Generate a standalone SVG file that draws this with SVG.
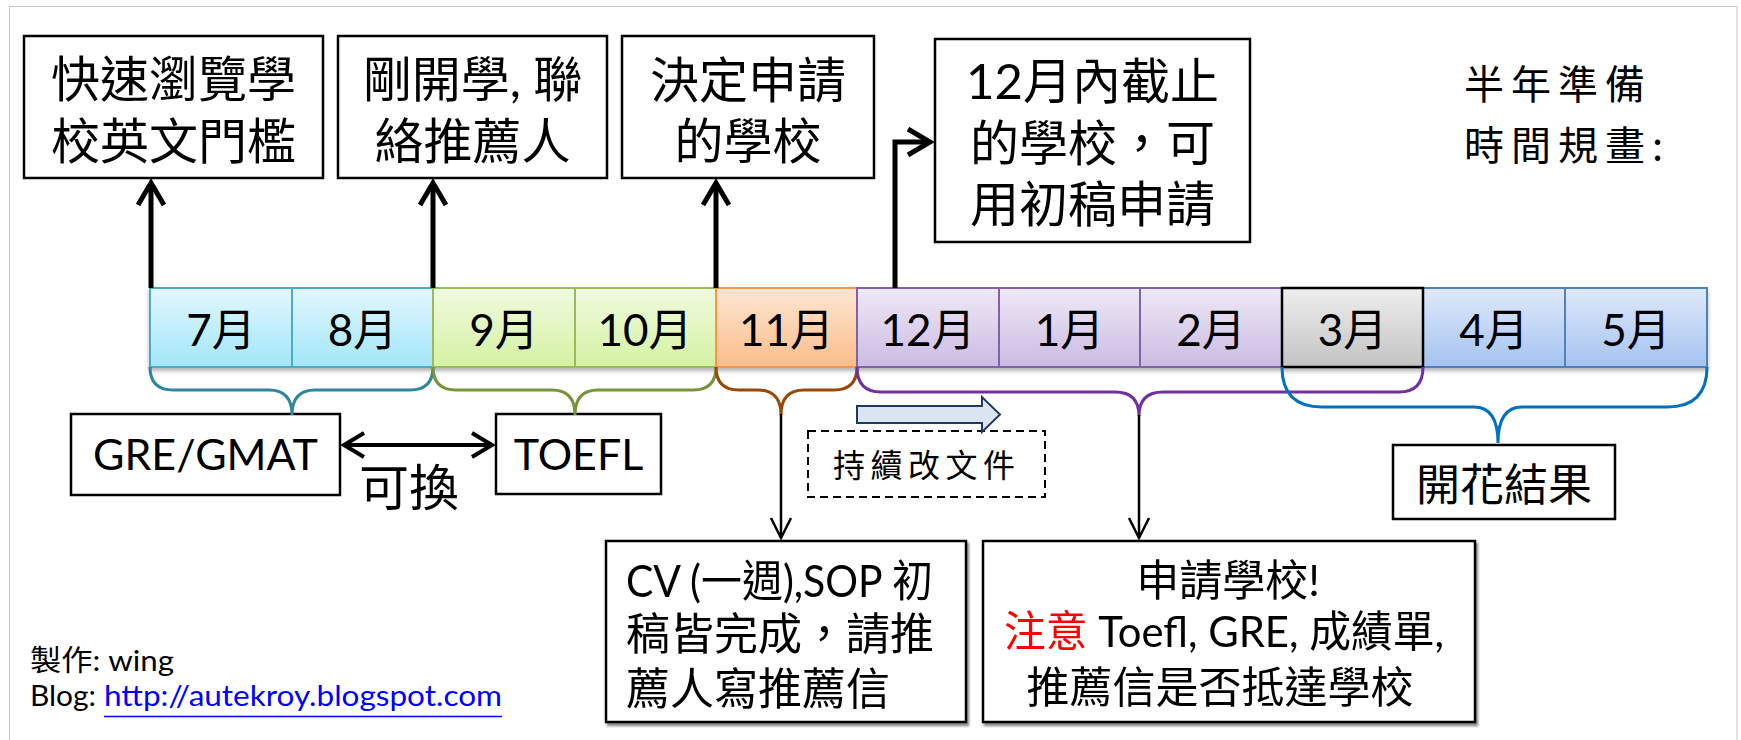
<svg xmlns="http://www.w3.org/2000/svg" width="1741" height="740" viewBox="0 0 1741 740">
<style>
.cjk{font-family:"Noto Sans CJK TC","Noto Sans CJK SC",sans-serif;fill:#000}
.lat{font-family:Lato,"Noto Sans CJK TC",sans-serif;fill:#000}
.box{fill:#fff;stroke:#000;stroke-width:2.5}
.thick{fill:none;stroke:#000;stroke-width:5}
.thin{fill:none;stroke:#000;stroke-width:2.5}
.brace{fill:none;stroke-width:3}
.cell-div{stroke-width:2}
</style>
<defs>
<marker id="ahThick" markerUnits="userSpaceOnUse" viewBox="0 0 34 30" markerWidth="34" markerHeight="30" refX="26" refY="15" orient="auto">
<path d="M4,2 L26,15 L4,28" fill="none" stroke="#000" stroke-width="5"/>
</marker>
<marker id="ahMid" markerUnits="userSpaceOnUse" viewBox="0 0 30 30" markerWidth="30" markerHeight="30" refX="24" refY="15" orient="auto-start-reverse">
<path d="M4,3 L24,15 L4,27" fill="none" stroke="#000" stroke-width="4"/>
</marker>
<marker id="ahThin" markerUnits="userSpaceOnUse" viewBox="0 0 30 26" markerWidth="30" markerHeight="26" refX="24" refY="13" orient="auto">
<path d="M4,3 L24,13 L4,23" fill="none" stroke="#000" stroke-width="2.5"/>
</marker>
<linearGradient id="gAqua" x1="0" y1="0" x2="0" y2="1"><stop offset="0" stop-color="#e2f7fd"/><stop offset="1" stop-color="#a3e6f9"/></linearGradient>
<linearGradient id="gGreen" x1="0" y1="0" x2="0" y2="1"><stop offset="0" stop-color="#f0fadf"/><stop offset="1" stop-color="#d5f2a3"/></linearGradient>
<linearGradient id="gOrange" x1="0" y1="0" x2="0" y2="1"><stop offset="0" stop-color="#fde6d3"/><stop offset="1" stop-color="#fbbd8b"/></linearGradient>
<linearGradient id="gPurple" x1="0" y1="0" x2="0" y2="1"><stop offset="0" stop-color="#efe9f6"/><stop offset="1" stop-color="#cbbbe2"/></linearGradient>
<linearGradient id="gGray" x1="0" y1="0" x2="0" y2="1"><stop offset="0" stop-color="#eeeeee"/><stop offset="1" stop-color="#c3c3c3"/></linearGradient>
<linearGradient id="gBlue" x1="0" y1="0" x2="0" y2="1"><stop offset="0" stop-color="#dfe9fa"/><stop offset="1" stop-color="#a5c3f0"/></linearGradient>
<filter id="shCell" x="-5%" y="-10%" width="110%" height="130%"><feDropShadow dx="0" dy="3" stdDeviation="2" flood-color="#000" flood-opacity="0.3"/></filter>
<filter id="shBox" x="-5%" y="-5%" width="110%" height="110%"><feDropShadow dx="2" dy="3" stdDeviation="1" flood-color="#000" flood-opacity="0.45"/></filter>
</defs>

<rect x="9.5" y="6.5" width="1727.5" height="745" fill="#fff" stroke="#c8c8c8" stroke-width="1"/>

<!-- top boxes -->
<g id="box-browse">
<rect class="box" x="24" y="36" width="299" height="142"/>
<text class="cjk" font-size="49" x="173.5" y="97" text-anchor="middle">快速瀏覽學</text>
<text class="cjk" font-size="49" x="173.5" y="159" text-anchor="middle">校英文門檻</text>
</g>
<g id="box-contact">
<rect class="box" x="338" y="36" width="269" height="142"/>
<text class="lat" font-size="49" x="472.5" y="97" text-anchor="middle">剛開學, 聯</text>
<text class="cjk" font-size="49" x="472.5" y="159" text-anchor="middle">絡推薦人</text>
</g>
<g id="box-decide">
<rect class="box" x="622" y="36" width="252" height="142"/>
<text class="cjk" font-size="49" x="748" y="98" text-anchor="middle">決定申請</text>
<text class="cjk" font-size="49" x="748" y="159" text-anchor="middle">的學校</text>
</g>
<g id="box-dec">
<rect class="box" x="935" y="39" width="315" height="203"/>
<text class="lat" font-size="49" x="1092.5" y="99" text-anchor="middle">12月內截止</text>
<text class="cjk" font-size="49" x="1092.5" y="161" text-anchor="middle">的學校，可</text>
<text class="cjk" font-size="49" x="1092.5" y="222" text-anchor="middle">用初稿申請</text>
</g>
<g id="title">
<text class="cjk" font-size="40" letter-spacing="7" x="1464" y="99">半年準備</text>
<text class="cjk" font-size="40" letter-spacing="7" x="1464" y="160">時間規畫:</text>
</g>

<!-- timeline -->
<g id="timeline" filter="url(#shCell)">
<g id="m-summer">
<rect x="150" y="288" width="283" height="79" fill="url(#gAqua)" stroke="#4bacc6" stroke-width="2"/>
<line class="cell-div" x1="292" y1="288" x2="292" y2="367" stroke="#4bacc6"/>
</g>
<g id="m-autumn">
<rect x="433" y="288" width="283" height="79" fill="url(#gGreen)" stroke="#9bbb59" stroke-width="2"/>
<line class="cell-div" x1="575" y1="288" x2="575" y2="367" stroke="#9bbb59"/>
</g>
<g id="m-nov">
<rect x="716" y="288" width="141" height="79" fill="url(#gOrange)" stroke="#f79646" stroke-width="2"/>
</g>
<g id="m-apply">
<rect x="857" y="288" width="425" height="79" fill="url(#gPurple)" stroke="#8064a2" stroke-width="2"/>
<line class="cell-div" x1="999" y1="288" x2="999" y2="367" stroke="#8064a2"/>
<line class="cell-div" x1="1140" y1="288" x2="1140" y2="367" stroke="#8064a2"/>
</g>
<g id="m-spring">
<rect x="1423" y="288" width="284" height="79" fill="url(#gBlue)" stroke="#4f81bd" stroke-width="2"/>
<line class="cell-div" x1="1565" y1="288" x2="1565" y2="367" stroke="#4f81bd"/>
</g>
<g id="m-mar">
<rect x="1282" y="288" width="141" height="79" fill="url(#gGray)" stroke="#000" stroke-width="2.5"/>
</g>
</g>
<g id="month-labels" class="lat" font-size="44" text-anchor="middle">
<text x="221" y="346">7月</text>
<text x="362.5" y="346">8月</text>
<text x="504" y="346">9月</text>
<text x="645" y="346">10月</text>
<text x="786.5" y="346">11月</text>
<text x="928" y="346">12月</text>
<text x="1069.5" y="346">1月</text>
<text x="1211" y="346">2月</text>
<text x="1352.5" y="346">3月</text>
<text x="1494" y="346">4月</text>
<text x="1636" y="346">5月</text>
</g>

<!-- lower nodes -->
<g id="box-gre">
<rect class="box" x="71" y="414" width="269" height="81"/>
<text class="lat" font-size="43" x="205.5" y="470" text-anchor="middle">GRE/GMAT</text>
</g>
<g id="box-toefl">
<rect class="box" x="496" y="414" width="165" height="80"/>
<text class="lat" font-size="43" x="578.5" y="470" text-anchor="middle">TOEFL</text>
</g>
<g id="label-swap">
<text class="cjk" font-size="50" x="409" y="506" text-anchor="middle">可換</text>
</g>
<g id="box-revise">
<rect x="808" y="431" width="237" height="66" fill="#fff" stroke="#000" stroke-width="2" stroke-dasharray="8,5"/>
<text class="cjk" font-size="32" letter-spacing="5.5" x="833" y="477">持續改文件</text>
</g>
<g id="block-arrow">
<path d="M857,406 H982 V397 L1000,414.5 L982,432 V423 H857 Z" fill="#dbe5f1" stroke="#1f3a60" stroke-width="2"/>
</g>
<g id="box-bloom">
<rect class="box" x="1393" y="445" width="222" height="74"/>
<text class="cjk" font-size="44" x="1504" y="501" text-anchor="middle">開花結果</text>
</g>
<g id="box-cv" filter="url(#shBox)">
<rect class="box" x="606" y="541" width="360" height="181"/>
<text class="lat" font-size="44" x="626" y="597" textLength="307" lengthAdjust="spacingAndGlyphs">CV (一週),SOP 初</text>
<text class="cjk" font-size="44" x="626" y="650">稿皆完成，請推</text>
<text class="cjk" font-size="44" x="626" y="705">薦人寫推薦信</text>
</g>
<g id="box-apply" filter="url(#shBox)">
<rect class="box" x="983" y="541" width="492" height="181"/>
<text class="lat" font-size="43" x="1228" y="596" text-anchor="middle">申請學校!</text>
<text class="lat" font-size="43" x="1004" y="647" textLength="440" lengthAdjust="spacingAndGlyphs"><tspan fill="#ff0000">注意</tspan> Toefl, GRE, 成績單,</text>
<text class="cjk" font-size="43" x="1220" y="703" text-anchor="middle">推薦信是否抵達學校</text>
</g>
<g id="credits">
<text class="lat" font-size="29" x="30" y="671" textLength="144" lengthAdjust="spacingAndGlyphs">製作: wing</text>
<text class="lat" font-size="29" x="30" y="706" textLength="66" lengthAdjust="spacingAndGlyphs">Blog:</text>
<text class="lat" font-size="29" x="104" y="706" textLength="398" lengthAdjust="spacingAndGlyphs" style="fill:#0000ff">http://autekroy.blogspot.com</text>
<line x1="104" y1="716.5" x2="502" y2="716.5" stroke="#0000ff" stroke-width="1.5"/>
</g>

<!-- connectors -->
<g id="connectors">
<g id="braces">
<path class="brace" stroke="#31859c" d="M150,367 Q150,390 173,390 L269,390 Q292,390 292,415 Q292,390 315,390 L410,390 Q433,390 433,367"/>
<path class="brace" stroke="#77933c" d="M433,367 Q433,390 456,390 L552,390 Q575,390 575,415 Q575,390 598,390 L693,390 Q716,390 716,367"/>
<path class="brace" stroke="#984807" d="M716,367 Q716,390 739,390 L758,390 Q781,390 781,415 Q781,390 804,390 L834,390 Q857,390 857,367"/>
<path class="brace" stroke="#7030a0" d="M857,367 Q857,392 881,392 L1115,392 Q1139,392 1139,416 Q1139,392 1163,392 L1399,392 Q1423,392 1423,367"/>
<path class="brace" stroke="#0070c0" d="M1282,367 Q1282,407 1322,407 L1474,407 Q1498,407 1498,443 Q1498,407 1522,407 L1667,407 Q1707,407 1707,367"/>
</g>
<line class="thick" x1="151" y1="288" x2="151" y2="183" marker-end="url(#ahThick)"/>
<line class="thick" x1="433" y1="288" x2="433" y2="183" marker-end="url(#ahThick)"/>
<line class="thick" x1="716" y1="288" x2="716" y2="183" marker-end="url(#ahThick)"/>
<path class="thick" d="M895,288 V142 H930" marker-end="url(#ahThick)"/>
<line x1="344" y1="445" x2="492" y2="445" stroke="#000" stroke-width="4" marker-start="url(#ahMid)" marker-end="url(#ahMid)"/>
<line class="thin" x1="781" y1="414" x2="781" y2="538" marker-end="url(#ahThin)"/>
<line class="thin" x1="1139" y1="415" x2="1139" y2="538" marker-end="url(#ahThin)"/>
</g>
</svg>
